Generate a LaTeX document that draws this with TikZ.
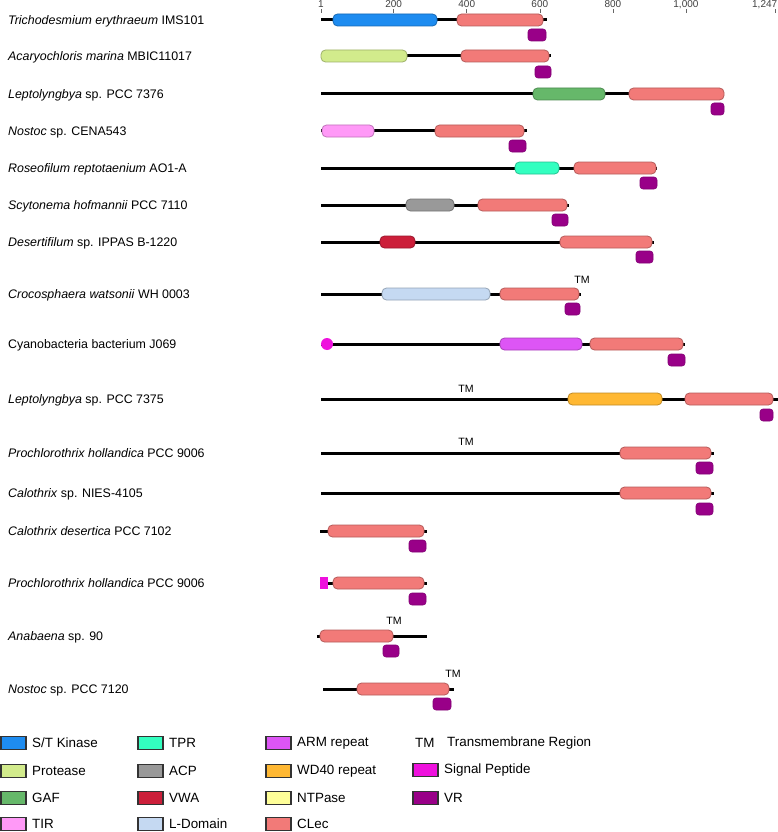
\documentclass[tikz,border=0pt]{standalone}
\usepackage{fontspec}
\setmainfont{Liberation Sans}

\definecolor{kinase}{HTML}{1E8CF0}
\definecolor{protease}{HTML}{D2EB8C}
\definecolor{gaf}{HTML}{66B86A}
\definecolor{tir}{HTML}{FF99F7}
\definecolor{tpr}{HTML}{33FFC0}
\definecolor{acp}{HTML}{999999}
\definecolor{vwa}{HTML}{CC1F3A}
\definecolor{ldom}{HTML}{C5D9F2}
\definecolor{arm}{HTML}{DD55F5}
\definecolor{wdforty}{HTML}{FFB833}
\definecolor{ntpase}{HTML}{FFFF99}
\definecolor{clec}{HTML}{F27A78}
\definecolor{sigpep}{HTML}{EE11DD}
\definecolor{vrcol}{HTML}{990088}

% domain box: row y, start x, end x, colour
\newcommand{\dom}[4]{\draw[dom, fill=#4, draw=#4!75!black] (#2,#1-6) rectangle (#3,#1+6);}
% variable region tag below the CLec
\newcommand{\vrtag}[3]{\draw[vrbox] (#2,#1) rectangle (#3,#1+12);}
% legend entry: x, y, colour, text
\newcommand{\key}[5]{\draw[keybox, fill=#3] (#1,#2-6.5) rectangle ++(25,13);
  \node[keytext] (#5) at (#1+31,#2) {#4};}

\begin{document}
\begin{tikzpicture}[x=1pt, y=-1pt,
    org/.style={anchor=base west, inner sep=0pt, font=\fontsize{12.4}{14}\selectfont},
    backbone/.style={line width=3pt, black},
    dom/.style={rounded corners=4.5pt, line width=0.8pt},
    vrbox/.style={rounded corners=3pt, fill=vrcol, draw=vrcol!85!black, line width=0.6pt},
    tm/.style={inner sep=0pt, font=\fontsize{10.6}{12}\selectfont},
    ticklab/.style={inner sep=0pt, text=black!75, font=\fontsize{10}{12}\selectfont},
    keybox/.style={draw=black!80, line width=1.1pt},
    keytext/.style={anchor=west, inner sep=0pt, font=\fontsize{13.4}{15}\selectfont}]
  \useasboundingbox (0,0) rectangle (778,832);

  % length axis
  \foreach \aa/\lbl in {1/1,200/200,400/400,600/600,800/800,1000/{1,000}}
    \draw[black!60, line width=0.6pt] ({321+(\aa-1)*0.3653},9.5) -- ++(0,3.5)
      node[pos=0, anchor=base, yshift=1.8pt, ticklab] {\lbl};
  \draw[black!60, line width=0.6pt] (775.5,9.5) -- ++(0,3.5)
    node[pos=0, anchor=base east, xshift=2pt, yshift=1.8pt, ticklab] {1,247};

  % 1
  \node[org] (r1) at (8,24.4) {\textit{Trichodesmium erythraeum} IMS101};
  \draw[backbone] (321,20) -- (547,20);
  \dom{20}{333}{437}{kinase} \dom{20}{457}{543}{clec}
  \vrtag{29}{528}{546}
  % 2
  \node[org] (r2) at (8,60.4) {\textit{Acaryochloris marina} MBIC11017};
  \draw[backbone] (321,56) -- (551,56);
  \dom{56}{321}{407}{protease} \dom{56}{461}{549}{clec}
  \vrtag{66}{535}{551}
  % 3
  \node[org] (r3) at (8,98.4) {\textit{Leptolyngbya} sp. PCC 7376};
  \draw[backbone] (321,94) -- (724,94);
  \dom{94}{533}{605}{gaf} \dom{94}{629}{724}{clec}
  \vrtag{103}{711}{724}
  % 4
  \node[org] (r4) at (8,135.4) {\textit{Nostoc} sp. CENA543};
  \draw[backbone] (321,131) -- (527,131);
  \dom{131}{322}{374}{tir} \dom{131}{435}{524}{clec}
  \vrtag{140}{509}{526}
  % 5
  \node[org] (r5) at (8,172.4) {\textit{Roseofilum reptotaenium} AO1-A};
  \draw[backbone] (321,168) -- (657,168);
  \dom{168}{515}{559}{tpr} \dom{168}{574}{656}{clec}
  \vrtag{177}{640}{657}
  % 6
  \node[org] (r6) at (8,209.4) {\textit{Scytonema hofmannii} PCC 7110};
  \draw[backbone] (321,205) -- (569,205);
  \dom{205}{406}{454}{acp} \dom{205}{478}{567}{clec}
  \vrtag{214}{552}{568}
  % 7
  \node[org] (r7) at (8,246.4) {\textit{Desertifilum} sp. IPPAS B-1220};
  \draw[backbone] (321,242) -- (654,242);
  \dom{242}{380}{415}{vwa} \dom{242}{560}{652}{clec}
  \vrtag{251}{636}{653}
  % 8
  \node[org] (r8) at (8,298.4) {\textit{Crocosphaera watsonii} WH 0003};
  \draw[backbone] (321,294) -- (581,294);
  \dom{294}{382}{490}{ldom} \dom{294}{500}{579}{clec}
  \node[tm] (tm8) at (582,280) {TM};
  \vrtag{303}{565}{580}
  % 9
  \node[org] (r9) at (8,348.4) {Cyanobacteria bacterium J069};
  \draw[backbone] (321,344) -- (685,344);
  \fill[sigpep] (327,344) circle (6);
  \dom{344}{500}{582}{arm} \dom{344}{590}{683}{clec}
  \vrtag{354}{668}{685}
  % 10
  \node[org] (r10) at (8,403.4) {\textit{Leptolyngbya} sp. PCC 7375};
  \draw[backbone] (321,399) -- (778,399);
  \node[tm] (tm10) at (466,389) {TM};
  \dom{399}{568}{662}{wdforty} \dom{399}{685}{773}{clec}
  \vrtag{409}{760}{773}
  % 11
  \node[org] (r11) at (8,457.4) {\textit{Prochlorothrix hollandica} PCC 9006};
  \draw[backbone] (321,453) -- (714,453);
  \node[tm] (tm11) at (466,442) {TM};
  \dom{453}{620}{711}{clec}
  \vrtag{462}{696}{713}
  % 12
  \node[org] (r12) at (8,497.4) {\textit{Calothrix} sp. NIES-4105};
  \draw[backbone] (321,493) -- (714,493);
  \dom{493}{620}{711}{clec}
  \vrtag{503}{696}{713}
  % 13
  \node[org] (r13) at (8,535.4) {\textit{Calothrix desertica} PCC 7102};
  \draw[backbone] (320,531) -- (427,531);
  \dom{531}{328}{424}{clec}
  \vrtag{540}{409}{426}
  % 14
  \node[org] (r14) at (8,587.4) {\textit{Prochlorothrix hollandica} PCC 9006};
  \draw[backbone] (320,583) -- (427,583);
  \fill[sigpep] (320,577) rectangle (328,589);
  \dom{583}{333}{424}{clec}
  \vrtag{593}{409}{426}
  % 15
  \node[org] (r15) at (8,640.4) {\textit{Anabaena} sp. 90};
  \draw[backbone] (317,636) -- (427,636);
  \dom{636}{320}{393}{clec}
  \node[tm] (tm15) at (394,621) {TM};
  \vrtag{645}{383}{399}
  % 16
  \node[org] (r16) at (8,693.4) {\textit{Nostoc} sp. PCC 7120};
  \draw[backbone] (323,689) -- (454,689);
  \dom{689}{357}{449}{clec}
  \node[tm] (tm16) at (453,674) {TM};
  \vrtag{698}{433}{451}

  % legend
  \key{1}{743}{kinase}{S/T Kinase}{k1}
  \key{1}{771}{protease}{Protease}{k2}
  \key{1}{798}{gaf}{GAF}{k3}
  \key{1}{824}{tir}{TIR}{k4}
  \key{138}{743}{tpr}{TPR}{k5}
  \key{138}{771}{acp}{ACP}{k6}
  \key{138}{798}{vwa}{VWA}{k7}
  \key{138}{824}{ldom}{L-Domain}{k8}
  \key{266}{743}{arm}{ARM repeat}{k9}
  \key{266}{771}{wdforty}{WD40 repeat}{k10}
  \key{266}{798}{ntpase}{NTPase}{k11}
  \key{266}{824}{clec}{CLec}{k12}
  \node[keytext] (ktm) at (415,743) {TM};
  \node[keytext] (ktm2) at (447,743) {Transmembrane Region};
  \key{413}{770}{sigpep}{Signal Peptide}{k13}
  \key{413}{798}{vrcol}{VR}{k14}
\end{tikzpicture}
\end{document}
